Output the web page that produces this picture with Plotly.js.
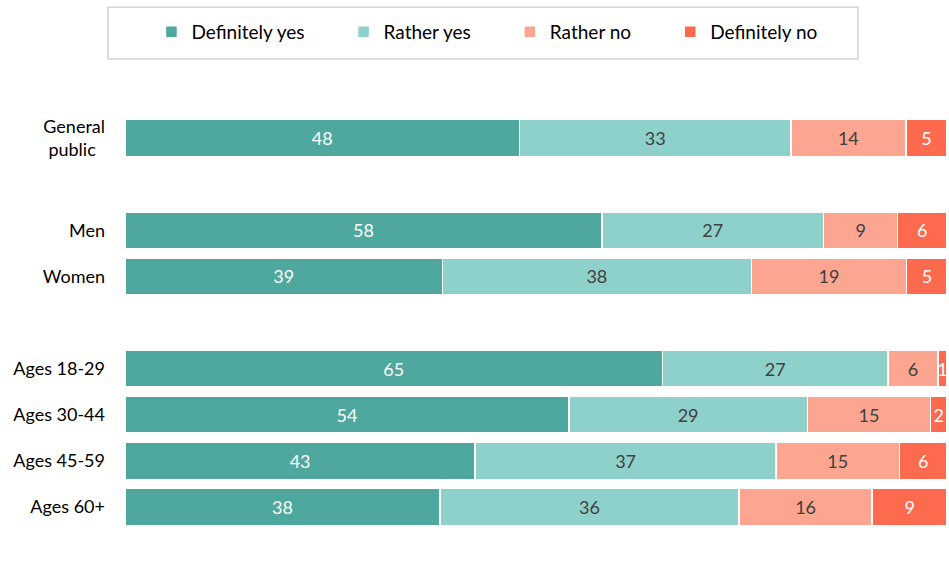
<!DOCTYPE html>
<html>
<head>
<meta charset="utf-8">
<script src="https://cdn.plot.ly/plotly-3.0.1.min.js"></script>
<style>
  html, body { margin: 0; padding: 0; background: #fff; }
  #chart { width: 949px; height: 586px; }
</style>
</head>
<body>
<div id="chart"></div>
<script>
// Groups (blank entries are the spacer rows between groups)
const groups = ['General<br>public\u00a0\u00a0', ' ', 'Men', 'Women', '  ',
  'Ages 18-29', 'Ages 30-44', 'Ages 45-59', 'Ages 60+'];

// Shares in % (labels show the rounded value)
const definitelyYes = [48, null, 58, 38.6, null, 65.4, 54, 42.6, 38.3];
const ratherYes     = [33, null, 27, 37.6, null, 27.4, 29, 36.6, 36.4];
const ratherNo      = [14, null, 9, 18.9, null, 6.1, 15, 15.0, 16.2];
const definitelyNo  = [5, null, 6, 4.9, null, 1.1, 2, 5.8, 9.1];

const seriesNames = ['Definitely yes', 'Rather yes', 'Rather no', 'Definitely no'];
const seriesValues = [definitelyYes, ratherYes, ratherNo, definitelyNo];
const colors = ['#4EA89E', '#8DD1CA', '#FCA591', '#FD6A4E'];
const textColors = ['#ffffff', '#404040', '#404040', '#ffffff'];

// extra room after each legend entry
const legendPad = '\u00a0'.repeat(7);

const traces = seriesNames.map((name, i) => ({
  type: 'bar',
  orientation: 'h',
  name: name + legendPad,
  y: groups,
  x: seriesValues[i],
  marker: { color: colors[i], line: { color: '#ffffff', width: 1.5 } },
  texttemplate: '%{x:.0f}',
  textposition: 'inside',
  insidetextanchor: 'middle',
  constraintext: 'none',
  textfont: { family: 'Lato, sans-serif', size: 18, color: textColors[i] },
  hoverinfo: 'skip'
}));

Plotly.newPlot('chart', traces, {
  barmode: 'stack',
  bargap: 0.2,
  width: 949,
  height: 586,
  margin: { t: 115, r: 2, b: 56, l: 125 },
  paper_bgcolor: '#ffffff',
  plot_bgcolor: '#ffffff',
  font: { family: 'Lato, sans-serif', size: 18, color: '#000000' },
  xaxis: {
    range: [0, 100],
    visible: false,
    fixedrange: true
  },
  yaxis: {
    autorange: 'reversed',
    type: 'category',
    showgrid: false,
    zeroline: false,
    showline: false,
    ticks: '',
    ticklabelstandoff: 19,
    tickfont: { family: 'Lato, sans-serif', size: 18, color: '#000000' },
    fixedrange: true
  },
  showlegend: true,
  legend: {
    orientation: 'h',
    x: 0.461,
    xanchor: 'center',
    y: 1.2,
    yanchor: 'middle',
    traceorder: 'normal',
    font: { family: 'Lato, sans-serif', size: 19, color: '#000000' },
    itemwidth: 30,
    bgcolor: 'rgba(0,0,0,0)'
  },
  shapes: [{
    type: 'rect',
    xref: 'paper', yref: 'paper',
    x0: -0.0207, x1: 0.8917, y0: 1.135, y1: 1.260,
    line: { color: '#bfbfbf', width: 1 },
    fillcolor: 'rgba(0,0,0,0)'
  }]
}, {
  displayModeBar: false,
  staticPlot: true
});
</script>
</body>
</html>
